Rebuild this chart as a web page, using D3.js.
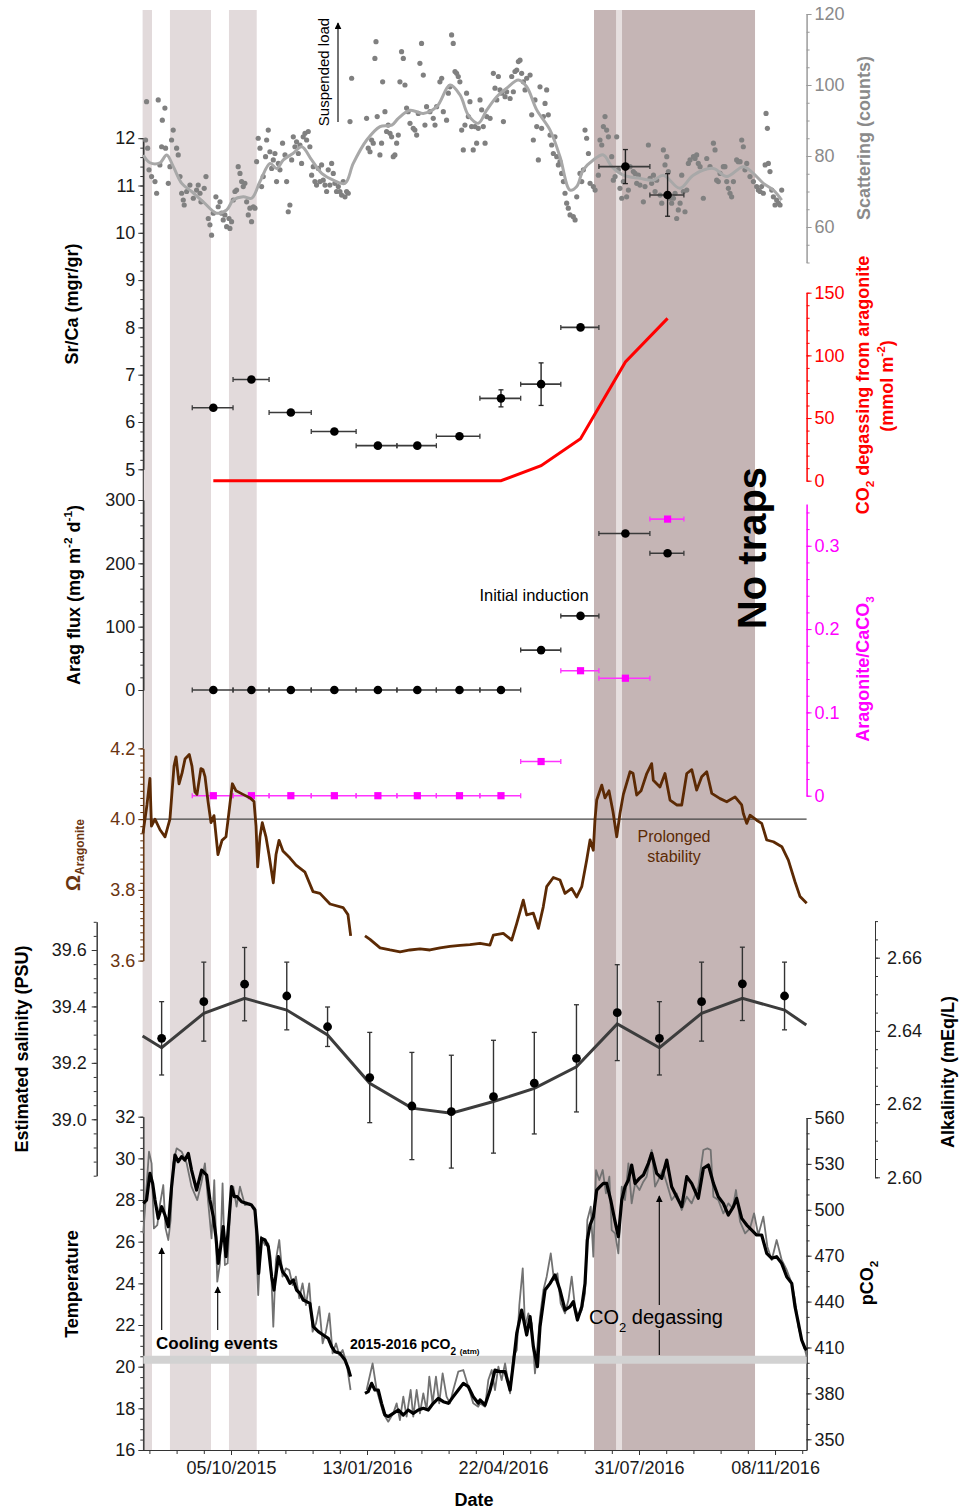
<!DOCTYPE html>
<html><head><meta charset="utf-8">
<script src="https://cdn.jsdelivr.net/npm/d3@7"></script>
<style>body{margin:0;background:#fff}svg{display:block}</style>
</head><body><svg id="c" width="963" height="1511"></svg>
<script>
const FONT = '"Liberation Sans", Arial, Helvetica, sans-serif';
const DAY = 864e5, T0 = Date.UTC(2015, 7, 1);
const dt = d => new Date(T0 + d * DAY);   // days since 1 Aug 2015

// ---- periods (days since 1 Aug 2015) ----
const lightBands = [[0, 6.9], [20.1, 50.3], [63.5, 83.9]];
const darkBand = [331.9, 450.3];
const darkStripe = [348.1, 352.5];

// ---- x axis ----
const dateTicks = ["2015-10-05", "2016-01-13", "2016-04-22", "2016-07-31", "2016-11-08"];
const minorTickDays = d3.range(5, 488, 20);

// ---- scattering (counts) ----
const scatDots = [[2.2,84.5],[2.9,95.3],[3.7,82.2],[4.7,76.1],[6.6,74.2],[9.1,72.8],[10.3,69.5],[11.5,95.8],[12.7,77.5],[14.0,82.6],[14.5,90.1],[16.4,93.5],[16.9,82.2],[18.9,72.3],[20.1,77.0],[21.3,84.5],[22.5,87.3],[25.0,82.2],[26.2,80.3],[27.5,74.2],[28.7,69.5],[29.9,67.6],[30.6,66.2],[32.4,70.0],[34.8,71.8],[37.3,68.1],[39.7,70.4],[40.9,71.8],[42.2,69.5],[42.9,67.1],[45.3,70.9],[46.6,74.2],[48.3,62.4],[49.5,60.6],[50.7,57.7],[52.0,63.9],[53.9,68.5],[55.6,65.7],[56.9,67.1],[58.1,63.9],[59.3,62.0],[60.5,63.4],[61.8,60.1],[63.5,62.4],[64.2,59.6],[65.4,61.5],[66.7,67.6],[67.9,70.0],[69.1,70.4],[70.3,77.0],[71.6,75.1],[72.8,72.8],[74.0,71.4],[75.2,72.3],[76.5,67.1],[77.7,63.4],[78.9,65.3],[80.1,61.5],[81.4,65.7],[82.6,65.3],[83.8,78.4],[85.0,85.0],[86.3,82.2],[87.5,71.4],[88.7,74.2],[90.4,79.8],[91.2,84.5],[92.4,87.3],[93.6,81.2],[94.9,76.5],[96.1,78.9],[97.3,80.7],[98.5,72.8],[99.8,77.9],[101.0,76.1],[102.9,83.6],[104.7,80.3],[105.9,72.8],[107.1,64.3],[108.3,66.2],[109.6,78.9],[110.8,85.4],[112.0,82.6],[113.2,84.0],[114.5,80.7],[115.7,83.1],[116.9,77.9],[118.1,85.4],[119.4,86.4],[120.6,84.5],[121.8,86.9],[123.0,82.6],[124.3,74.6],[125.5,77.0],[126.7,72.8],[127.9,71.8],[129.2,76.5],[130.4,72.8],[131.6,77.5],[132.8,73.2],[134.1,71.8],[135.3,70.0],[136.5,76.1],[137.7,71.8],[139.0,77.9],[140.2,75.1],[141.4,72.3],[142.6,70.0],[143.9,71.4],[145.1,70.0],[146.3,69.0],[147.5,72.8],[148.8,68.5],[150.0,70.0],[151.2,69.5],[152.5,89.7],[153.7,101.9],
[164.7,90.6],[165.9,82.2],[167.2,81.2],[168.4,84.5],[169.6,83.6],[170.8,107.5],[171.6,112.2],[172.5,91.1],[174.5,80.3],[175.7,83.6],[176.5,100.9],[178.2,92.5],[179.4,86.9],[180.6,88.7],[181.9,86.4],[183.1,85.4],[184.3,79.8],[185.5,80.3],[186.8,83.6],[188.0,85.9],[189.2,100.9],[190.4,109.4],[191.7,107.5],[192.9,100.0],[194.1,93.5],[195.3,92.5],[196.6,89.2],[199.0,87.8],[200.2,87.3],[201.5,85.9],[202.7,92.0],[203.9,106.1],[205.1,111.7],[206.4,102.8],[207.6,88.7],[208.8,93.9],[211.3,92.5],[213.7,90.6],[215.0,88.7],[216.2,93.9],[218.6,100.9],[219.9,101.9],[221.1,92.5],[223.5,90.1],[224.8,97.7],[226.0,99.5],[227.2,114.1],[228.4,111.7],[229.7,103.8],[230.9,103.3],[232.1,102.4],[233.3,100.9],[234.6,87.3],[235.8,81.7],[237.0,88.7],[238.2,97.7],[239.5,91.1],[240.7,95.3],[241.9,88.3],[243.1,81.7],[244.4,88.3],[245.6,83.6],[246.8,87.8],
[248.1,95.8],[249.3,93.0],[250.5,88.3],[251.8,83.6],[253.0,91.1],[255.5,90.6],[257.9,103.3],[259.1,99.1],[260.4,95.8],[261.6,102.4],[262.8,98.6],[264.0,97.7],[265.3,89.7],[266.5,96.7],[267.7,98.1],[270.2,96.2],[271.4,102.4],[272.6,98.1],[273.8,103.8],[275.1,104.2],[276.3,106.6],[277.5,107.0],[278.7,103.3],[280.0,100.9],[281.2,98.6],[282.4,101.9],[284.9,102.8],[286.1,91.6],[287.3,84.5],[288.5,95.8],[289.8,88.3],[291.0,78.9],[292.2,99.5],[293.4,87.8],[294.7,91.1],[295.9,94.8],[297.1,98.6],[298.3,91.6],[299.6,85.9],[300.8,83.1],[302.0,80.7],[303.2,85.4],[304.5,79.8],[305.7,77.5],[306.9,78.4],[308.1,75.1],[309.4,72.8],[310.6,69.5],[311.8,66.7],[313.0,65.3],[314.3,63.4],[316.7,62.9],[318.0,62.0],[319.2,68.5],[321.6,75.1],[322.9,72.8],[324.1,76.1],[325.3,87.3],[326.5,85.0],[327.8,80.7],[329.0,72.3],[331.4,71.4],[332.7,70.4],[335.1,74.6],[336.3,84.5],[337.6,83.1],[338.8,88.3],[340.0,91.1],[341.2,87.3],[342.5,85.4],[344.9,79.8],[346.1,73.2],[347.4,74.2],[348.6,85.4],[349.8,76.1],[351.0,70.9],[352.3,68.1],[353.5,72.8],[355.9,68.5],[357.2,70.4],[358.4,77.0],[360.8,75.6],[362.1,75.1],[363.3,72.3],[364.5,74.6],[365.7,71.8],[368.2,67.1],[369.4,71.4],[371.9,83.1],[373.1,73.7],[374.3,72.3],[375.6,74.6],[376.8,70.0],[378.0,73.2],[380.5,69.0],[381.7,66.7],[382.9,81.7],[384.1,77.5],[385.4,79.8],[386.6,75.6],[387.8,68.1],[389.0,66.7],[390.3,68.1],[391.5,69.5],[392.7,62.4],[393.9,64.8],[395.2,66.7],[396.4,74.6],[397.6,70.0],[398.8,64.3],[400.1,70.4],[401.3,77.9],[402.5,78.9],[405.0,79.8],[406.2,79.3],[407.4,80.3],[408.6,77.9],[409.9,77.0],[412.3,68.1],[414.8,79.3],[417.2,77.0],[419.7,83.6],[420.9,81.7],[422.1,73.2],[423.3,72.8],[424.6,75.1],[427.0,77.0],[428.2,77.0],[429.5,72.8],[430.7,70.9],[431.9,69.5],[433.1,68.5],[434.4,72.8],[436.8,78.9],[438.0,78.4],[439.3,78.4],[440.5,84.5],[441.7,82.6],[442.9,76.1],[444.2,77.9],[446.6,74.2],[449.1,72.8],[451.5,71.4],[452.7,70.4],[454.0,70.0],[455.2,71.4],[456.4,69.5],[457.7,77.5],[458.4,92.0],[459.4,87.8],[460.1,77.9],[461.3,75.6],[462.6,70.4],[463.8,68.5],[465.0,66.2],[466.2,67.6],[467.5,66.7],[468.7,66.2],[469.9,70.4]];
const scatSmooth = [[0.5,80.3],[5.4,78.1],[12.8,78.1],[17.7,80.3],[22.6,77.0],[28.8,72.3],[36.1,70.0],[44.6,67.1],[54.5,63.9],[61.8,64.8],[66.7,67.6],[74.0,68.5],[80.2,68.1],[86.3,72.8],[93.7,77.9],[98.6,76.5],[103.5,78.9],[110.8,80.8],[117.0,82.6],[124.3,78.9],[131.7,75.1],[140.2,73.2],[148.8,72.3],[154.9,77.9],[164.8,84.5],[174.6,88.3],[183.2,88.7],[188.0,90.6],[196.6,92.9],[206.4,92.0],[216.3,93.9],[226.0,100.0],[233.4,97.2],[239.5,91.5],[246.8,89.2],[253.0,92.9],[260.4,96.7],[267.7,99.1],[276.3,101.4],[282.4,99.5],[289.8,93.0],[299.6,87.3],[306.9,79.8],[314.3,70.4],[319.2,71.4],[324.0,76.1],[331.4,78.9],[338.8,80.3],[345.0,77.0],[353.5,74.6],[365.7,73.7],[375.5,73.2],[382.9,74.6],[395.1,70.9],[404.9,74.6],[419.6,76.5],[429.5,74.2],[441.7,77.0],[449.0,75.1],[456.4,72.3],[463.8,70.4],[469.9,67.6]];

// ---- trap bins (days) ----
const binStart = [36.5, 66.5, 93, 124, 157, 187, 216, 248, 278, 307.5, 335.5, 373];
const binEnd   = [66.5, 93, 124, 157, 187, 216, 248, 278, 307.5, 335.5, 373, 398];
const binMid   = [52, 80, 109, 141, 173, 202, 233, 263.5, 293, 322, 355, 386];
const srCa     = [6.3, 6.9, 6.2, 5.8, 5.5, 5.5, 5.7, 6.5, 6.8, 8.0, 11.4, 10.8];
const srCaErr  = [0, 0, 0.03, 0, 0, 0, 0.05, 0.18, 0.45, 0, 0.36, 0.45];
const aragFlux = [0, 0, 0, 0, 0, 0, 0, 0, 63, 117, 247, 216];
const aragFrac = [0, 0, 0, 0, 0, 0, 0, 0, 0.041, 0.15, 0.141, 0.332];
const co2Degas = [0, 0, 0, 0, 0, 0, 0, 0, 12, 33.5, 94.7, 129.5];

// ---- Omega aragonite ----
const omega = [[0.3,3.96],[3.2,4.04],[5.4,4.115],[6.5,3.98],[9.1,4.0],[12.8,3.97],[16.5,3.95],[20.1,4.0],[23.1,4.15],[24.6,4.176],[26.8,4.10],[29.0,4.13],[31.2,4.17],[34.3,4.183],[36.3,4.15],[38.5,4.077],[40.0,4.07],[42.9,4.143],[44.4,4.14],[45.9,4.12],[48.1,4.05],[50.3,3.99],[52.5,4.01],[55.4,3.90],[58.4,3.94],[61.3,3.95],[63.5,4.02],[66.0,4.10],[68.7,4.08],[73.8,4.07],[79.0,4.06],[81.9,4.05],[83.4,3.98],[84.6,3.865],[86.3,3.95],[88.0,3.99],[90.7,3.95],[92.9,3.90],[96.1,3.82],[98.1,3.90],[100.3,3.94],[103.2,3.91],[108.4,3.89],[112.8,3.87],[119.4,3.85],[125.3,3.795],[130.4,3.79],[137.8,3.76],[147.4,3.75],[151.0,3.73],[153.0,3.67],
[null,null],
[163.5,3.67],[167.2,3.66],[174.6,3.636],[181.9,3.63],[189.3,3.625],[196.6,3.63],[204.0,3.633],[211.3,3.63],[218.7,3.636],[226.0,3.64],[233.4,3.643],[240.7,3.645],[248.1,3.649],[255.4,3.644],[257.9,3.672],[265.2,3.677],[271.4,3.658],[275.1,3.705],[279.9,3.771],[282.4,3.729],[287.3,3.734],[291.0,3.691],[294.6,3.752],[297.1,3.809],[302.0,3.835],[306.9,3.828],[310.6,3.79],[315.5,3.804],[319.2,3.78],[322.9,3.809],[326.5,3.884],[329.0,3.941],[331.4,3.912],[332.6,3.997],[333.9,4.054],[337.6,4.096],[340.0,4.06],[342.9,4.08],[345.9,4.02],[348.6,3.95],[351.0,4.016],[353.5,4.07],[358.4,4.134],[360.6,4.13],[363.3,4.068],[366.5,4.08],[370.7,4.129],[374.3,4.157],[375.5,4.11],[380.4,4.091],[384.1,4.129],[387.8,4.054],[392.7,4.04],[396.4,4.04],[400.1,4.129],[403.8,4.14],[407.4,4.082],[411.1,4.12],[414.8,4.134],[418.5,4.073],[424.6,4.058],[429.5,4.049],[435.6,4.063],[440.5,4.04],[441.7,4.016],[444.2,3.988],[446.6,4.011],[451.5,3.997],[455.2,3.988],[458.9,3.941],[463.8,3.936],[470.0,3.922],[474.8,3.884],[479.7,3.823],[483.4,3.781],[488.3,3.762]];

// ---- salinity / alkalinity ----
const salDays = [14, 45, 75, 106, 136, 167, 198, 227, 258, 288, 319, 349, 380, 411, 441, 472];
const salinity = [39.287, 39.417, 39.479, 39.437, 39.328, 39.148, 39.047, 39.027, 39.08, 39.128, 39.216, 39.378, 39.287, 39.417, 39.48, 39.437];
const salErr = [0.13, 0.14, 0.13, 0.12, 0.07, 0.16, 0.19, 0.20, 0.20, 0.18, 0.19, 0.17, 0.13, 0.14, 0.13, 0.12];
const alkDays = [0, 14, 45, 75, 106, 136, 167, 198, 227, 258, 288, 319, 349, 380, 411, 441, 472, 488];
const alkalinity = [2.6386, 2.6354, 2.6448, 2.6489, 2.6457, 2.6389, 2.6257, 2.6189, 2.6175, 2.6207, 2.6243, 2.6302, 2.6419, 2.6354, 2.6448, 2.6489, 2.6457, 2.6416];

// ---- temperature ----
const tempBlack = [[0.5,27.84],[2.9,28.0],[5.4,29.28],[7.4,28.8],[9.1,28.0],[11.5,27.12],[14.0,27.68],[16.4,27.28],[18.9,26.72],[21.3,28.64],[23.8,30.16],[26.2,29.84],[28.7,30.08],[31.1,29.92],[33.6,30.24],[36.0,29.44],[39.7,28.48],[43.4,29.44],[47.1,29.2],[49.5,28.0],[52.0,27.2],[53.9,26.24],[55.6,24.96],[57.4,25.76],[59.3,26.72],[61.3,25.28],[63.7,27.2],[65.4,28.64],[67.4,28.16],[69.6,28.16],[72.8,27.92],[76.5,27.84],[80.1,27.76],[82.6,27.52],[84.3,26.24],[85.3,24.48],[87.5,26.16],[90.0,26.08],[92.4,25.76],[94.9,24.32],[96.6,23.68],[99.8,25.28],[102.9,24.56],[105.9,24.32],[108.3,24.0],[110.8,24.16],[113.2,23.68],[115.7,23.52],[118.1,23.2],[120.6,23.12],[123.0,23.04],[125.5,21.92],[129.2,21.68],[132.8,21.52],[136.5,21.36],[139.0,20.96],[141.4,20.72],[145.1,20.64],[148.8,20.32],[151.2,19.92],[152.9,19.52],
[null,null],
[163.5,18.72],[165.9,18.8],[168.4,19.2],[170.8,18.88],[173.3,18.88],[175.7,18.24],[178.2,17.68],[180.6,17.6],[184.3,17.76],[188.0,17.92],[191.7,17.68],[195.3,17.92],[199.0,17.76],[202.7,17.92],[206.4,18.0],[210.0,17.92],[213.7,18.24],[217.4,18.48],[221.1,18.32],[224.8,18.24],[228.4,18.56],[232.1,18.88],[235.8,19.2],[239.5,19.04],[243.1,18.56],[246.8,18.24],[248.1,18.4],[251.8,18.16],[255.5,18.88],[259.1,19.84],[262.8,19.76],[266.5,19.76],[270.2,18.88],[272.6,20.16],[275.1,21.6],[278.7,22.72],[282.4,21.52],[284.9,22.4],[287.3,20.96],[290.3,20.0],[292.2,21.92],[295.9,23.68],[299.6,24.0],[303.2,24.4],[306.9,23.68],[310.6,22.72],[314.3,22.88],[316.7,23.12],[319.7,22.24],[322.9,22.88],[325.3,24.0],[327.0,26.08],[329.0,26.8],[331.4,27.2],[333.9,28.48],[336.3,28.64],[338.8,28.8],[341.2,28.8],[344.2,28.0],[347.4,26.96],[349.8,26.24],[352.3,28.0],[354.7,28.64],[357.2,28.96],[359.6,29.68],[362.1,28.8],[365.3,29.04],[368.2,29.2],[371.9,29.76],[374.3,30.24],[378.0,29.28],[381.7,29.04],[385.4,29.92],[389.0,28.64],[392.7,28.16],[396.4,27.68],[400.1,29.12],[403.7,28.8],[408.6,28.08],[412.3,29.52],[416.0,29.68],[419.7,28.8],[423.3,28.16],[427.0,27.84],[430.7,27.28],[434.4,27.68],[436.8,28.08],[440.5,27.12],[444.2,26.8],[447.9,26.56],[451.5,26.32],[455.2,26.32],[458.9,25.44],[462.6,25.2],[466.2,25.28],[469.9,24.96],[473.6,24.32],[477.3,24.0],[479.7,22.88],[482.2,22.08],[484.6,21.28],[487.1,20.88],[488.3,20.8]];
const tempGray = [[0.5,26.4],[4.7,30.32],[6.6,29.76],[8.3,26.64],[10.8,26.8],[12.7,27.76],[15.2,28.72],[16.9,26.64],[18.9,26.08],[20.6,27.04],[22.5,29.76],[25.0,30.48],[28.7,30.32],[32.4,29.76],[36.0,28.64],[40.2,28.0],[43.4,28.88],[45.8,29.76],[48.3,27.84],[50.7,26.16],[52.7,28.96],[54.9,24.08],[56.9,24.96],[58.8,28.8],[60.5,24.88],[62.5,24.96],[64.7,28.0],[66.7,28.64],[69.1,27.68],[71.6,28.64],[75.2,27.76],[78.9,27.84],[82.6,27.6],[85.0,23.44],[87.0,26.24],[90.0,25.84],[92.4,25.92],[94.1,25.28],[96.1,21.92],[98.0,25.12],[100.5,26.08],[102.9,24.32],[105.4,24.72],[107.8,24.64],[110.3,23.92],[112.7,24.32],[115.2,23.28],[117.6,24.0],[120.1,22.96],[122.5,24.0],[125.0,21.68],[127.5,22.08],[129.9,22.88],[132.4,21.12],[134.8,21.68],[137.3,22.56],[139.7,20.64],[142.2,21.12],[144.6,20.56],[147.1,20.8],[150.0,20.16],[152.9,18.88],
[null,null],
[164.7,18.88],[169.1,20.16],[172.1,18.88],[177.0,17.76],[180.6,17.36],[184.3,17.76],[186.8,18.24],[189.2,17.44],[191.7,18.56],[194.1,17.6],[197.1,18.88],[199.0,17.6],[201.5,18.88],[203.9,17.76],[206.4,18.72],[208.8,17.92],[210.8,19.52],[213.2,18.24],[215.7,19.52],[218.1,18.24],[220.6,19.68],[223.5,18.56],[226.0,18.24],[228.4,18.88],[232.1,19.76],[235.8,19.84],[239.5,19.04],[243.1,18.24],[246.8,18.08],[248.1,18.24],[251.8,18.08],[254.2,19.36],[256.7,19.84],[259.1,18.88],[261.6,20.0],[264.0,19.36],[266.5,20.16],[270.2,18.72],[272.6,20.48],[275.1,20.8],[277.0,22.96],[279.5,24.72],[281.2,21.92],[283.6,22.56],[286.1,22.08],[288.5,19.68],[292.2,22.4],[294.7,23.68],[297.1,24.32],[300.1,25.44],[302.5,24.16],[305.0,24.48],[307.4,23.04],[310.6,22.56],[313.1,23.2],[315.5,24.32],[317.9,22.88],[320.4,22.4],[322.9,22.72],[325.3,23.52],[327.0,27.04],[329.5,27.68],[331.4,25.28],[333.4,29.44],[335.8,28.96],[338.3,29.44],[340.7,28.32],[343.2,29.12],[344.9,26.56],[347.4,26.4],[349.8,25.44],[352.3,28.64],[354.7,28.0],[357.2,29.76],[359.6,27.84],[362.1,28.8],[365.3,28.48],[368.2,28.88],[370.6,29.12],[374.3,30.4],[376.8,28.64],[379.2,28.96],[382.4,29.44],[385.4,28.8],[389.0,28.0],[392.7,28.32],[396.4,27.52],[400.1,28.16],[403.7,27.84],[408.6,28.64],[412.3,30.4],[415.3,30.48],[417.7,30.4],[419.7,28.16],[423.3,28.0],[427.0,27.36],[430.7,27.84],[433.9,27.6],[436.3,28.48],[439.3,26.96],[443.0,26.4],[446.6,26.64],[449.6,27.36],[452.7,26.32],[456.4,27.2],[459.4,25.76],[462.6,25.12],[466.2,26.08],[469.9,25.12],[473.6,24.64],[477.3,24.0],[479.7,23.2],[482.2,21.92],[484.6,21.28],[487.1,20.8],[488.3,20.48]];
const pco2Atm = 402;

// ================= drawing =================
const svg = d3.select("#c").attr("font-family", FONT);
const x = d3.scaleUtc().domain([dt(0), dt(488)]).range([142.6, 806.3]);
const yScat = d3.scaleLinear().domain([50, 120]).range([262.5, 14]);
const ySr   = d3.scaleLinear().domain([5, 12]).range([469.3, 138.2]);
const yCO2  = d3.scaleLinear().domain([0, 150]).range([480.7, 292.7]);
const yFlux = d3.scaleLinear().domain([0, 300]).range([690, 500]);
const yFrac = d3.scaleLinear().domain([0, 0.35]).range([795.7, 504.1]);
const yOm   = d3.scaleLinear().domain([3.6, 4.2]).range([960.6, 748.4]);
const ySal  = d3.scaleLinear().domain([38.8, 39.7]).range([1175.7, 921.8]);
const yAlk  = d3.scaleLinear().domain([2.60, 2.67]).range([1177.3, 921.1]);
const yT    = d3.scaleLinear().domain([16, 32]).range([1450, 1116.7]);
const yP    = d3.scaleLinear().domain([343, 560]).range([1450, 1118]);
const XL = 143.3, XR = 806.6, BTOP = 10, BBOT = 1450;

// bands
const bandG = svg.append("g");
bandG.selectAll("rect.l").data(lightBands).join("rect")
  .attr("x", d => x(dt(d[0]))).attr("width", d => x(dt(d[1])) - x(dt(d[0])))
  .attr("y", BTOP).attr("height", BBOT - BTOP).attr("fill", "#e2dadb");
bandG.append("rect").attr("x", x(dt(darkBand[0]))).attr("width", x(dt(darkBand[1])) - x(dt(darkBand[0])))
  .attr("y", BTOP).attr("height", BBOT - BTOP).attr("fill", "#c5b5b5");
bandG.append("rect").attr("x", x(dt(darkStripe[0]))).attr("width", x(dt(darkStripe[1])) - x(dt(darkStripe[0])))
  .attr("y", BTOP).attr("height", BBOT - BTOP).attr("fill", "#e6dfdf");

const rng = (a, b, s) => d3.range(Math.round((b - a) / s) + 1).map(i => +(a + i * s).toFixed(4));

function drawAxis(scale, xpos, orient, majors, minors, fmt, color, labelColor, pad) {
  const g = svg.append("g").attr("transform", `translate(${xpos},0)`);
  const mk = orient === "left" ? d3.axisLeft : d3.axisRight;
  g.append("g").call(mk(scale).tickValues(minors).tickSize(3).tickSizeOuter(0).tickFormat(""));
  g.append("g").call(mk(scale).tickValues(majors).tickSize(5).tickSizeOuter(0).tickPadding(pad || 3).tickFormat(fmt));
  g.selectAll("path,line").attr("stroke", color).attr("stroke-width", 1);
  g.selectAll("text").attr("fill", labelColor).attr("font-size", 18).attr("font-family", FONT);
  return g;
}
const BROWN = "#5c2a04";

// left connecting axis line (Sr/Ca to Omega)
svg.append("line").attr("x1", XL).attr("x2", XL).attr("y1", ySr(12)).attr("y2", yOm(4.2)).attr("stroke", "#333");

drawAxis(yScat, XR, "right", [60, 80, 100, 120], rng(50, 120, 5), d3.format("d"), "#9a9a9a", "#8a8a8a");
drawAxis(ySr, XL, "left", rng(5, 12, 1), rng(5, 12, 0.2), d3.format("d"), "#333", "#1a1a1a");
drawAxis(yCO2, XR, "right", [0, 50, 100, 150], rng(0, 150, 10), d3.format("d"), "#ff0000", "#ff0000");
drawAxis(yFlux, XL, "left", [0, 100, 200, 300], rng(0, 300, 20), d3.format("d"), "#333", "#1a1a1a");
drawAxis(yFrac, XR, "right", [0, 0.1, 0.2, 0.3], rng(0, 0.34, 0.02), d => d === 0 ? "0" : d3.format(".1f")(d), "#ff00ff", "#ff00ff");
drawAxis(yOm, XL, "left", [3.6, 3.8, 4.0, 4.2], rng(3.6, 4.2, 0.02), d3.format(".1f"), BROWN, "#6b3510");
drawAxis(ySal, 96.7, "left", [39.0, 39.2, 39.4, 39.6], rng(38.8, 39.7, 0.05), d3.format(".1f"), "#333", "#1a1a1a", 5);
drawAxis(yAlk, 875, "right", [2.60, 2.62, 2.64, 2.66], rng(2.6, 2.67, 0.005), d3.format(".2f"), "#333", "#1a1a1a", 7);
drawAxis(yT, XL, "left", rng(16, 32, 2), rng(16, 32, 0.5), d3.format("d"), "#333", "#1a1a1a");
drawAxis(yP, XR, "right", rng(350, 560, 30), rng(350, 560, 10), d3.format("d"), "#333", "#1a1a1a");

// x axis
const xg = svg.append("g").attr("transform", `translate(0,${BBOT})`);
xg.append("g").call(d3.axisBottom(x).tickValues(minorTickDays.map(dt)).tickSize(4).tickSizeOuter(0).tickFormat(""));
xg.append("g").call(d3.axisBottom(x).tickValues(dateTicks.map(s => new Date(s + "T00:00:00Z")))
  .tickSize(5).tickSizeOuter(0).tickPadding(6).tickFormat(d3.utcFormat("%d/%m/%Y")));
xg.selectAll("path,line").attr("stroke", "#333");
xg.selectAll("text").attr("font-size", 18).attr("fill", "#1a1a1a").attr("font-family", FONT);

// ---- scattering ----
svg.append("g").selectAll("circle").data(scatDots).join("circle")
  .attr("cx", d => x(dt(d[0]))).attr("cy", d => yScat(d[1])).attr("r", 2.6).attr("fill", "#808080");
svg.append("path").datum(scatSmooth)
  .attr("d", d3.line().curve(d3.curveCatmullRom).x(d => x(dt(d[0]))).y(d => yScat(d[1])))
  .attr("fill", "none").attr("stroke", "#a8a8a8").attr("stroke-width", 3);

// ---- bins helpers ----
const bins = binMid.map((m, i) => ({ i, s: binStart[i], e: binEnd[i], m }));
function hbars(g, yfun, color, w) {
  bins.forEach(b => {
    const yy = yfun(b.i);
    g.append("line").attr("x1", x(dt(b.s))).attr("x2", x(dt(b.e))).attr("y1", yy).attr("y2", yy).attr("stroke", color).attr("stroke-width", w);
    [b.s, b.e].forEach(v => g.append("line").attr("x1", x(dt(v))).attr("x2", x(dt(v))).attr("y1", yy - 2.5).attr("y2", yy + 2.5).attr("stroke", color).attr("stroke-width", 1.3));
  });
}

// CO2 degassing line
svg.append("path").datum(bins)
  .attr("d", d3.line().x(b => x(dt(b.m))).y(b => yCO2(co2Degas[b.i])))
  .attr("fill", "none").attr("stroke", "#ff0000").attr("stroke-width", 3);

// Sr/Ca points
const gSr = svg.append("g");
hbars(gSr, i => ySr(srCa[i]), "#3a3a3a", 1.6);
bins.forEach(b => {
  const e = srCaErr[b.i]; if (!e) return;
  const cx = x(dt(b.m)), y1 = ySr(srCa[b.i] + e), y2 = ySr(srCa[b.i] - e);
  gSr.append("line").attr("x1", cx).attr("x2", cx).attr("y1", y1).attr("y2", y2).attr("stroke", "#222").attr("stroke-width", 1.4);
  [y1, y2].forEach(yy => gSr.append("line").attr("x1", cx - 2.5).attr("x2", cx + 2.5).attr("y1", yy).attr("y2", yy).attr("stroke", "#222").attr("stroke-width", 1.3));
});
gSr.selectAll("circle").data(bins).join("circle").attr("cx", b => x(dt(b.m))).attr("cy", b => ySr(srCa[b.i])).attr("r", 4.3).attr("fill", "#000");

// Arag flux
const gF = svg.append("g");
hbars(gF, i => yFlux(aragFlux[i]), "#3a3a3a", 1.6);
gF.selectAll("circle").data(bins).join("circle").attr("cx", b => x(dt(b.m))).attr("cy", b => yFlux(aragFlux[b.i])).attr("r", 4.3).attr("fill", "#000");

// Aragonite/CaCO3
const gM = svg.append("g");
hbars(gM, i => yFrac(aragFrac[i]), "#ff33ff", 1.6);
gM.selectAll("rect").data(bins).join("rect").attr("x", b => x(dt(b.m)) - 3.6).attr("y", b => yFrac(aragFrac[b.i]) - 3.6)
  .attr("width", 7.2).attr("height", 7.2).attr("fill", "#ff00ff");

// Omega line + 4.0 reference
svg.append("line").attr("x1", XL).attr("x2", XR).attr("y1", yOm(4.0)).attr("y2", yOm(4.0)).attr("stroke", "#444").attr("stroke-width", 1.1);
svg.append("path").datum(omega)
  .attr("d", d3.line().defined(d => d[0] !== null).x(d => x(dt(d[0]))).y(d => yOm(d[1])))
  .attr("fill", "none").attr("stroke", BROWN).attr("stroke-width", 2.8).attr("stroke-linejoin", "round");

// Salinity / alkalinity
svg.append("path").datum(alkDays.map((d, i) => [d, alkalinity[i]]))
  .attr("d", d3.line().x(d => x(dt(d[0]))).y(d => yAlk(d[1])))
  .attr("fill", "none").attr("stroke", "#3c3c3c").attr("stroke-width", 3);
const gS = svg.append("g");
salDays.forEach((d, i) => {
  const cx = x(dt(d)), y1 = ySal(salinity[i] + salErr[i]), y2 = ySal(salinity[i] - salErr[i]);
  gS.append("line").attr("x1", cx).attr("x2", cx).attr("y1", y1).attr("y2", y2).attr("stroke", "#333").attr("stroke-width", 1.4);
  [y1, y2].forEach(yy => gS.append("line").attr("x1", cx - 2.5).attr("x2", cx + 2.5).attr("y1", yy).attr("y2", yy).attr("stroke", "#333").attr("stroke-width", 1.3));
  gS.append("circle").attr("cx", cx).attr("cy", ySal(salinity[i])).attr("r", 4.4).attr("fill", "#000");
});

// pCO2 atm band
svg.append("line").attr("x1", XL).attr("x2", XR).attr("y1", yP(pco2Atm)).attr("y2", yP(pco2Atm)).attr("stroke", "#d2d2d2").attr("stroke-width", 8);

// temperature lines
const tline = d3.line().defined(d => d[0] !== null).x(d => x(dt(d[0]))).y(d => yT(d[1]));
svg.append("path").datum(tempGray).attr("d", tline).attr("fill", "none").attr("stroke", "#727272").attr("stroke-width", 1.8).attr("stroke-linejoin", "round");
svg.append("path").datum(tempBlack).attr("d", tline).attr("fill", "none").attr("stroke", "#000").attr("stroke-width", 3.2).attr("stroke-linejoin", "round");

// ---- arrows ----
const defs = svg.append("defs");
defs.append("marker").attr("id", "ah").attr("viewBox", "0 0 10 10").attr("refX", 9).attr("refY", 5)
  .attr("markerWidth", 7).attr("markerHeight", 7).attr("markerUnits", "userSpaceOnUse").attr("orient", "auto")
  .append("path").attr("d", "M0,0 L10,5 L0,10 z").attr("fill", "#000");
function arrow(x0, y0, y1, mark) {
  const l = svg.append("line").attr("x1", x0).attr("x2", x0).attr("y1", y0).attr("y2", y1).attr("stroke", "#000").attr("stroke-width", 1.1);
  if (mark) l.attr("marker-end", "url(#ah)");
}
arrow(338, 122, 23, true);
arrow(161.7, 1330, 1248, true);
arrow(217.7, 1330, 1287, true);
arrow(659.3, 1355, 1330, false);
arrow(659.3, 1305, 1196, true);

// ---- texts ----
function txt(x0, y0, parts, o) {
  const t = svg.append("text").attr("font-size", o.size).attr("fill", o.color || "#000")
    .attr("font-weight", o.bold ? "bold" : "normal").attr("text-anchor", o.anchor || "middle");
  if (o.rot) t.attr("transform", `translate(${x0},${y0}) rotate(-90)`).attr("dominant-baseline", o.base || "central");
  else t.attr("x", x0).attr("y", y0);
  parts.forEach(p => {
    const [s, k, fs] = Array.isArray(p) ? p : [p];
    const ts = t.append("tspan").text(s);
    if (k === "sub") ts.attr("baseline-shift", "sub").attr("font-size", fs || "65%");
    if (k === "sup") ts.attr("baseline-shift", "super").attr("font-size", fs || "65%");
  });
  return t;
}
txt(323, 72, ["Suspended load"], { size: 15, rot: true });
txt(72, 304, ["Sr/Ca (mgr/gr)"], { size: 18, bold: true, rot: true });
txt(74, 595, ["Arag flux (mg m", ["-2", "sup"], " d", ["-1", "sup"], ")"], { size: 18, bold: true, rot: true });
txt(73, 855, ["Ω", ["Aragonite", "sub", 12]], { size: 20, bold: true, rot: true, color: "#6b3510" });
txt(22, 1049, ["Estimated salinity (PSU)"], { size: 18, bold: true, rot: true });
txt(72, 1284, ["Temperature"], { size: 18, bold: true, rot: true });
txt(864, 138, ["Scattering (counts)"], { size: 18, bold: true, rot: true, color: "#8a8a8a" });
txt(863, 385, ["CO", ["2", "sub"], " degassing from aragonite"], { size: 18, bold: true, rot: true, color: "#ff0000" });
txt(887, 386, ["(mmol m", ["-2", "sup"], ")"], { size: 18, bold: true, rot: true, color: "#ff0000" });
txt(863, 669, ["Aragonite/CaCO", ["3", "sub"]], { size: 18, bold: true, rot: true, color: "#ff00ff" });
txt(948, 1072, ["Alkalinity (mEq/L)"], { size: 18, bold: true, rot: true });
txt(867, 1283, ["pCO", ["2", "sub"]], { size: 18, bold: true, rot: true });
txt(474, 1506, ["Date"], { size: 18, bold: true });
txt(766, 548, ["No traps"], { size: 40, bold: true, rot: true, base: "alphabetic" });
txt(534, 601, ["Initial induction"], { size: 16.5 });
txt(674, 842, ["Prolonged"], { size: 16, color: "#5c2a04" });
txt(674, 862, ["stability"], { size: 16, color: "#5c2a04" });
txt(156, 1349, ["Cooling events"], { size: 17, bold: true, anchor: "start" });
txt(350, 1349, ["2015-2016 pCO", ["2", "sub", 10], " ", ["(atm)", "sub", 8]], { size: 14, bold: true, anchor: "start" });
txt(589, 1324, ["CO", ["2", "sub"], " degassing"], { size: 20, anchor: "start" });
</script></body></html>
